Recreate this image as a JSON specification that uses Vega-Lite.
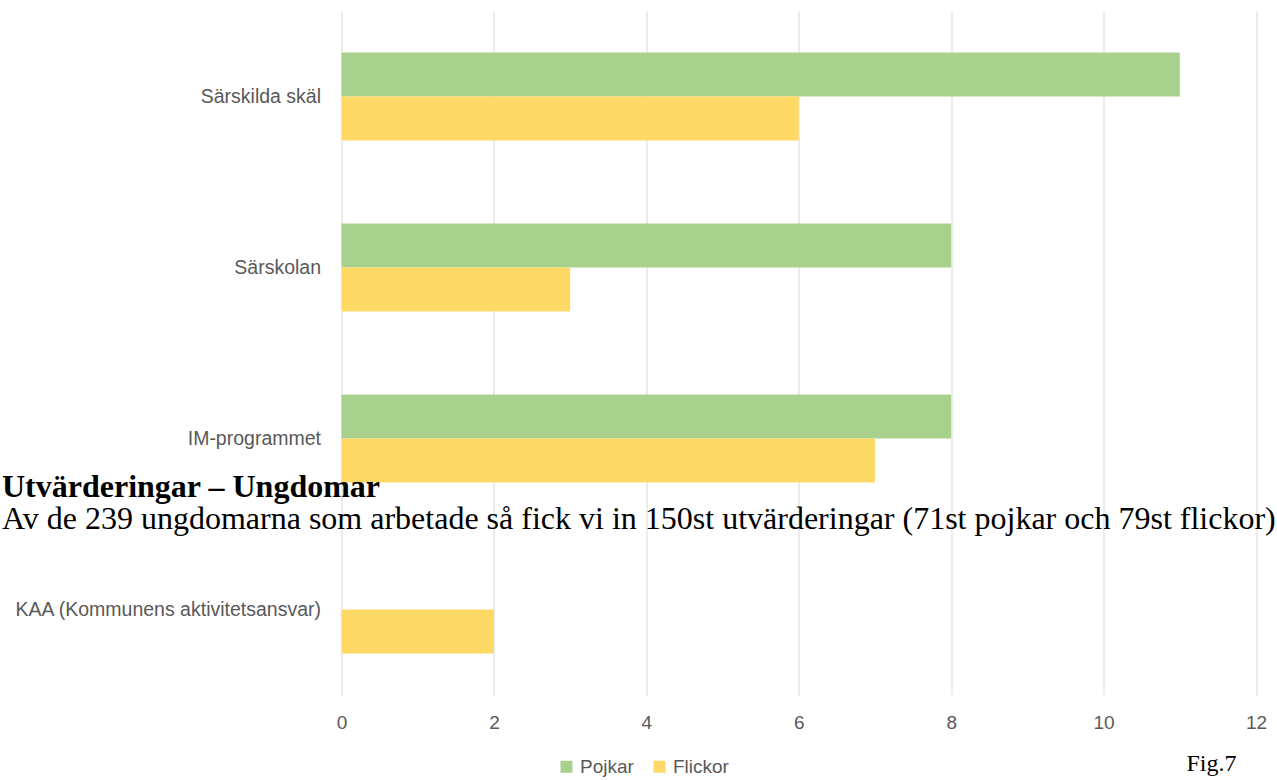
{
  "$schema": "https://vega.github.io/schema/vega-lite/v6.json",
  "width": 914.5,
  "height": 684,
  "autosize": {"type": "none"},
  "padding": {"left": 341.5, "top": 11, "right": 21, "bottom": 85},
  "background": "white",
  "title": {
    "text": "Utvärderingar – Ungdomar",
    "subtitle": "Av de 239 ungdomarna som arbetade så fick vi in 150st utvärderingar (71st pojkar och 79st flickor)",
    "anchor": "start",
    "frame": "group",
    "orient": "top",
    "dx": -339.5,
    "dy": 529,
    "baseline": "top",
    "font": "Liberation Serif",
    "fontSize": 32,
    "fontWeight": "bold",
    "color": "#000000",
    "subtitleFont": "Liberation Serif",
    "subtitleFontSize": 32,
    "subtitleFontWeight": "normal",
    "subtitleColor": "#000000",
    "subtitlePadding": 0,
    "zindex": 2
  },
  "data": {
    "values": [
      {"category": "Särskilda skäl", "gender": "Pojkar", "value": 11},
      {"category": "Särskilda skäl", "gender": "Flickor", "value": 6},
      {"category": "Särskolan", "gender": "Pojkar", "value": 8},
      {"category": "Särskolan", "gender": "Flickor", "value": 3},
      {"category": "IM-programmet", "gender": "Pojkar", "value": 8},
      {"category": "IM-programmet", "gender": "Flickor", "value": 7},
      {"category": "KAA (Kommunens aktivitetsansvar)", "gender": "Pojkar", "value": 0},
      {"category": "KAA (Kommunens aktivitetsansvar)", "gender": "Flickor", "value": 2}
    ]
  },
  "mark": {"type": "bar"},
  "encoding": {
    "y": {
      "field": "category",
      "type": "nominal",
      "sort": ["Särskilda skäl", "Särskolan", "IM-programmet", "KAA (Kommunens aktivitetsansvar)"],
      "scale": {"paddingInner": 0.485, "paddingOuter": 0.2425},
      "axis": {
        "title": null,
        "domain": false,
        "ticks": false,
        "grid": false,
        "labelFont": "Liberation Sans",
        "labelFontSize": 19.5,
        "labelColor": "#595959",
        "labelPadding": 21,
        "labelLimit": 400
      }
    },
    "yOffset": {"field": "gender", "type": "nominal", "sort": ["Pojkar", "Flickor"]},
    "x": {
      "field": "value",
      "type": "quantitative",
      "scale": {"domain": [0, 12], "nice": false},
      "axis": {
        "values": [0, 2, 4, 6, 8, 10, 12],
        "grid": true,
        "gridColor": "#D9D9D9",
        "gridWidth": 1,
        "domain": false,
        "ticks": false,
        "labelFlush": false,
        "labelFont": "Liberation Sans",
        "labelFontSize": 19,
        "labelColor": "#595959",
        "labelPadding": 18,
        "title": "Fig.7",
        "titleFont": "Liberation Serif",
        "titleFontSize": 24,
        "titleFontWeight": "normal",
        "titleColor": "#000000",
        "titleX": 844.5,
        "titleY": 75,
        "titleAlign": "left",
        "titleBaseline": "alphabetic",
        "titleAngle": 0
      }
    },
    "color": {
      "field": "gender",
      "type": "nominal",
      "scale": {"domain": ["Pojkar", "Flickor"], "range": ["#A9D18E", "#FFD966"]},
      "legend": {
        "title": null,
        "orient": "none",
        "direction": "horizontal",
        "legendX": 215.5,
        "legendY": 746,
        "padding": 0,
        "symbolType": "square",
        "symbolSize": 144,
        "symbolStrokeWidth": 0,
        "labelFont": "Liberation Sans",
        "labelFontSize": 19,
        "labelColor": "#595959",
        "labelOffset": 4,
        "columnPadding": 16
      }
    }
  },
  "config": {"view": {"stroke": null}}
}
